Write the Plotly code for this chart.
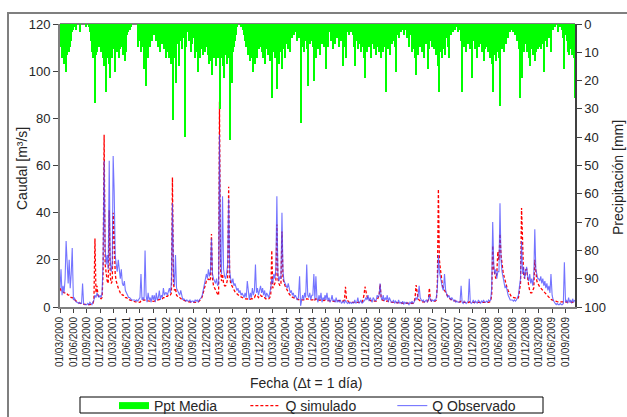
import datetime as dt
import plotly.graph_objects as go

# Quarter tick positions / labels (x axis)
tick_labels = [
    "01/03/2000", "01/06/2000", "01/09/2000", "01/12/2000",
    "01/03/2001", "01/06/2001", "01/09/2001", "01/12/2001",
    "01/03/2002", "01/06/2002", "01/09/2002", "01/12/2002",
    "01/03/2003", "01/06/2003", "01/09/2003", "01/12/2003",
    "01/03/2004", "01/06/2004", "01/09/2004", "01/12/2004",
    "01/03/2005", "01/06/2005", "01/09/2005", "01/12/2005",
    "01/03/2006", "01/06/2006", "01/09/2006", "01/12/2006",
    "01/03/2007", "01/06/2007", "01/09/2007", "01/12/2007",
    "01/03/2008", "01/06/2008", "01/09/2008", "01/12/2008",
    "01/03/2009", "01/06/2009", "01/09/2009",
]

series_names = ["Ppt Media", "Q simulado", "Q Observado"]

# Weekly values, 13 per quarter (row = quarter starting at the tick date)
ppt_media = [
    8, 12, 6, 14, 10, 17, 11, 9, 10, 8, 6, 3, 2,
    1, 0, 2, 0, 0, 0, 3, 0, 0, 0, 0, 0, 1,
    0, 0, 1, 3, 6, 10, 12, 9, 28, 11, 10, 8, 6,
    10, 8, 12, 15, 11, 24, 12, 9, 14, 19, 10, 12, 8,
    9, 17, 8, 10, 6, 12, 9, 5, 8, 11, 7, 13, 10,
    4, 3, 2, 2, 1, 0, 0, 0, 0, 0, 0, 8, 5,
    6, 10, 8, 16, 9, 22, 6, 12, 5, 8, 3, 6, 2,
    4, 2, 6, 3, 8, 5, 10, 4, 7, 3, 9, 6, 12,
    10, 8, 12, 6, 14, 9, 34, 12, 8, 21, 7, 5, 15,
    6, 4, 9, 3, 5, 40, 8, 3, 2, 6, 4, 10, 7,
    5, 12, 7, 10, 17, 8, 12, 6, 9, 11, 7, 10, 8,
    8, 11, 14, 9, 13, 18, 10, 12, 7, 15, 9, 12, 10,
    30, 12, 9, 15, 19, 11, 8, 14, 10, 12, 41, 9, 21,
    10, 8, 6, 4, 1, 0, 0, 1, 0, 2, 4, 6, 8,
    6, 11, 8, 13, 9, 12, 17, 10, 14, 8, 12, 6, 9,
    8, 5, 10, 12, 7, 14, 9, 6, 11, 8, 13, 10, 26,
    10, 8, 12, 9, 23, 11, 14, 8, 10, 16, 9, 12, 7,
    6, 9, 4, 10, 3, 5, 2, 4, 1, 3, 6, 2, 5,
    5, 35, 8, 4, 10, 6, 3, 9, 22, 5, 7, 4, 6,
    8, 20, 6, 12, 4, 9, 3, 11, 7, 5, 8, 4, 6,
    16, 5, 8, 3, 6, 2, 9, 4, 7, 3, 5, 2, 8,
    3, 6, 4, 15, 5, 8, 12, 3, 2, 4, 1, 3, 2,
    4, 8, 15, 6, 3, 9, 5, 7, 10, 4, 8, 12, 19,
    10, 6, 8, 4, 12, 5, 7, 9, 3, 11, 6, 8, 10,
    9, 12, 7, 10, 5, 8, 24, 6, 9, 4, 11, 5, 7,
    6, 3, 8, 17, 4, 2, 5, 1, 3, 0, 2, 4, 1,
    2, 5, 3, 8, 4, 10, 6, 9, 12, 18, 7, 11, 5,
    8, 4, 10, 6, 12, 3, 7, 5, 16, 9, 6, 4, 8,
    6, 9, 4, 11, 8, 15, 24, 10, 7, 12, 5, 9, 11,
    5, 3, 8, 12, 2, 4, 1, 3, 0, 2, 0, 1, 3,
    2, 6, 24, 4, 8, 3, 10, 5, 7, 4, 9, 6, 19,
    6, 3, 9, 5, 12, 4, 8, 2, 7, 10, 5, 13, 9,
    8, 5, 10, 6, 12, 9, 14, 24, 11, 8, 13, 7, 10,
    12, 29, 9, 6, 10, 4, 7, 2, 5, 1, 3, 0, 2,
    3, 1, 4, 2, 6, 5, 9, 26, 12, 19, 8, 10, 7,
    6, 10, 8, 12, 15, 9, 7, 11, 8, 13, 10, 6, 9,
    8, 5, 9, 4, 7, 17, 6, 3, 8, 2, 5, 4, 10,
    2, 0, 1, 0, 0, 3, 0, 1, 0, 2, 5, 16, 4,
    3, 6, 10, 11, 8, 9, 11, 10, 12, 26,
]

q_observado = [
    8, 16, 5, 9, 6, 12, 28, 15, 10, 20, 8, 14, 25,
    3, 4, 2.5, 2, 2, 1.5, 2, 1.5, 1.5, 10, 1.5, 1, 1,
    1, 1.5, 1, 2, 1.5, 1, 2, 3, 5, 4, 6, 5, 4,
    5, 4, 6, 20, 62, 25, 18, 22, 16, 62, 20, 15, 18,
    64, 49, 22, 18, 15, 20, 14, 12, 16, 10, 9, 11, 7,
    6, 5, 4, 4, 3.5, 3, 3, 3, 3, 2.5, 3, 2.5, 3,
    4, 14, 3, 4, 3, 24, 5, 2, 6, 3, 4, 2, 5,
    3, 5, 2, 6, 3, 4, 7, 3, 5, 4, 8, 5, 6,
    6, 5, 7, 8, 6, 10, 44, 15, 9, 22, 8, 7, 6,
    5, 7, 4, 3, 3.5, 3, 2.5, 3, 2.5, 2.5, 3, 2, 2.5,
    2.5, 2, 3, 2.5, 3, 2, 3, 3.5, 4, 5, 7, 9, 12,
    14, 12, 16, 13, 15, 29, 14, 12, 11, 10, 12, 9, 10,
    73, 20, 14, 47, 16, 13, 12, 14, 18, 46, 15, 12, 10,
    12, 9, 10, 8, 7, 8, 6, 7, 5, 6, 5, 4, 6,
    4, 11, 5, 3, 6, 4, 8, 5, 7, 18, 6, 8, 5,
    7, 9, 6, 8, 5, 7, 4, 6, 5, 4, 6, 8, 12,
    10, 14, 12, 16, 47, 14, 11, 13, 12, 40, 15, 11, 10,
    9, 8, 10, 7, 6, 7, 5, 6, 4, 5, 4, 3, 4,
    13, 0.5, 4, 5, 3, 6, 4, 18, 5, 4, 6, 3, 5,
    5, 14, 3, 13, 4, 2, 5, 3, 6, 2, 4, 3, 5,
    3, 6, 2.5, 4, 2, 3, 5, 2.5, 3, 2, 4, 2, 3,
    2, 3, 1.5, 2, 2.5, 1.5, 3, 2, 1.5, 2, 1.5, 2, 1.5,
    2, 1.5, 3, 1.5, 2, 4, 1.5, 2, 3, 1.5, 2, 2.5, 3,
    4, 3, 5, 2.5, 4, 3, 2, 4, 3, 2.5, 3, 5, 4,
    5, 10, 4, 3, 5, 2.5, 4, 3, 5, 2, 4, 3, 2,
    2, 3, 1.5, 2.5, 2, 1.5, 3, 1.5, 2, 1.5, 2.5, 1, 2,
    1.5, 2, 1.5, 1, 2, 1.5, 2.5, 1.5, 2, 3, 4, 3, 5,
    9, 4, 3, 2.5, 3, 2, 2.5, 3, 2, 3, 5, 3, 2.5,
    3, 2.5, 3, 2.5, 4, 8, 22, 15, 12, 10, 8, 7, 14,
    7, 5, 4, 5, 3.5, 3, 4, 3, 2.5, 3, 2, 2.5, 2,
    2, 2.5, 9, 2, 1.5, 2.5, 2, 1.5, 2, 2.5, 12, 2, 1.5,
    2, 3, 1.5, 2.5, 2, 1.5, 3, 2, 1.5, 2.5, 2, 3, 2,
    2, 2.5, 2, 3, 2.5, 3, 8, 36, 18, 14, 16, 12, 15,
    15, 44, 20, 15, 12, 10, 8, 9, 6, 5, 4, 3, 3,
    3, 2.5, 3, 2.5, 3, 4, 5, 9, 12, 28, 14, 17, 12,
    15, 17, 13, 11, 14, 10, 12, 9, 13, 33, 16, 14, 12,
    12, 11, 13, 10, 12, 9, 11, 8, 10, 7, 9, 6, 14,
    5, 3, 2, 1.5, 1, 1.5, 1, 1, 1.5, 1, 1, 1.5, 19,
    2, 3, 1.5, 4, 2, 3, 1.5, 3.5, 2, 3,
]

q_simulado = [
    8, 7, 7, 6.5, 6, 6, 6, 5.5, 5, 5, 4.5, 4, 4,
    3.5, 3, 2.5, 2.2, 2, 1.8, 1.6, 1.5, 1.4, 1.3, 1.2, 1.1, 1,
    1, 1, 1, 1, 1, 1.2, 1.5, 3, 29, 6, 9, 5, 4,
    4, 3.5, 4, 15, 73, 18, 13, 11, 10, 41, 13, 10, 11,
    40, 30, 14, 11, 9, 8, 7, 6, 6, 5, 5, 4.5, 4,
    4, 3.5, 3, 3, 2.8, 2.6, 2.5, 2.4, 2.3, 2.2, 2.1, 2, 2,
    2, 2.5, 2.5, 3, 3, 3, 3, 2.8, 2.6, 2.5, 2.5, 2.4, 2.4,
    2.4, 2.5, 2.6, 2.8, 3, 3, 3.2, 3, 3.2, 3.5, 4, 4, 4.5,
    4.5, 4.5, 5, 5, 5, 6, 55, 10, 7, 8, 5, 4.5, 4,
    4, 3.5, 3.2, 3, 2.8, 2.6, 2.5, 2.4, 2.3, 2.2, 2.1, 2, 2,
    2, 2, 2, 2, 2, 2.2, 2.5, 3, 3.5, 4.5, 6, 8, 10,
    11, 11, 12, 11, 12, 31, 12, 9, 8, 7, 6, 5.5, 5,
    87, 16, 11, 14, 10, 9, 9, 10, 12, 51, 13, 10, 9,
    8, 7, 6.5, 6, 5.5, 5, 4.8, 4.5, 4.2, 4, 3.8, 3.6, 3.5,
    3.4, 3.3, 3.2, 3.2, 3.3, 3.5, 3.5, 4, 4, 5, 4.5, 4.5, 4,
    5, 5, 4.5, 4.5, 4, 4, 3.5, 3.5, 3.5, 3.5, 4, 5, 24,
    8, 9, 10, 11, 35, 12, 10, 9, 10, 32, 12, 10, 9,
    8, 7, 6, 5.5, 5, 4.5, 4.2, 4, 3.8, 3.6, 3.4, 3.2, 3,
    3, 3, 3, 3, 3, 3, 3, 3.5, 3.5, 3.2, 3, 3, 3,
    3, 3.5, 3, 3.5, 3, 2.8, 3, 2.8, 3, 2.7, 2.8, 2.7, 3,
    2.8, 2.8, 2.7, 2.6, 2.6, 2.5, 2.5, 2.5, 2.4, 2.4, 2.5, 2.6, 3,
    2.8, 2.6, 2.5, 2.5, 2.5, 3, 8.6, 3.5, 2.5, 2.2, 2, 2, 1.9,
    1.9, 1.8, 1.8, 1.8, 1.8, 1.9, 1.8, 1.8, 1.9, 2, 3, 5, 8.6,
    6, 4.5, 3.5, 3, 2.8, 2.6, 2.5, 2.4, 2.4, 2.5, 2.5, 3, 4,
    5, 9.6, 4, 3, 2.8, 2.6, 2.5, 2.4, 2.6, 2.4, 2.3, 2.2, 2.1,
    2, 2, 1.9, 1.9, 1.8, 1.8, 1.8, 1.7, 1.7, 1.7, 1.6, 1.6, 1.6,
    1.6, 1.6, 1.5, 1.5, 1.5, 1.5, 1.5, 1.6, 2, 4, 9.3, 5, 3.5,
    3, 2.5, 2.3, 2.2, 2.2, 2.1, 2, 2, 2.2, 3, 8, 3.5, 2.5,
    2.5, 2.4, 2.4, 2.5, 3, 10, 50, 20, 16, 12, 9, 8, 7,
    6, 5, 4.5, 4, 3.5, 3.2, 3, 2.8, 2.6, 2.5, 2.4, 2.3, 2.2,
    2.2, 2.1, 2.5, 2.1, 2, 2, 1.9, 1.9, 1.9, 1.9, 2.2, 2, 1.9,
    2, 2, 1.9, 1.9, 1.9, 1.8, 1.8, 1.8, 1.8, 1.8, 1.8, 1.8, 1.9,
    1.9, 1.9, 2, 2, 2.2, 2.5, 5, 26, 16, 13, 12, 14, 23.5,
    20, 31, 22, 18, 15, 13, 11, 9, 8, 7, 6, 5, 4.5,
    4.2, 4, 3.8, 3.6, 3.5, 3.5, 4, 8, 10, 42, 20, 14, 12,
    15.7, 16, 12, 9, 7, 6, 6, 7, 8, 20, 13, 11, 10,
    9, 8.5, 8, 7.5, 7, 6.5, 6, 5.5, 5, 4.5, 4, 3.5, 3.2,
    3, 2.8, 2.6, 2.5, 2.4, 2.3, 2.2, 2.2, 2.1, 2.1, 2, 2, 2,
    2, 2, 2, 2.2, 2.2, 2.1, 2, 2, 2, 2,
]

# ---- dates ----
quarter_starts = [dt.datetime(int(s[6:]), int(s[3:5]), 1) for s in tick_labels]
WEEKS_PER_QUARTER = 13


def week_dates(n):
    out = []
    for i in range(n):
        k, j = divmod(i, WEEKS_PER_QUARTER)
        out.append(quarter_starts[k] + dt.timedelta(days=7 * j))
    return out


dates = week_dates(len(q_observado))
bar_dates = [d + dt.timedelta(days=3.5) for d in week_dates(len(ppt_media))]

FONT = "Liberation Sans, Arial, sans-serif"
TXT = "#262626"
AXC = "#7f7f7f"
NBSP = "\u00a0"

fig = go.Figure()

fig.add_trace(go.Bar(
    x=bar_dates, y=ppt_media, yaxis="y2", name=series_names[0],
    marker=dict(color="#00ff00", line=dict(width=0)),
    width=7 * 86400000, showlegend=False,
))
# legend stand-in for the precipitation bars (thick green band);
# trailing no-break spaces only widen the legend entry
fig.add_trace(go.Scatter(
    x=[None], y=[None], mode="lines", name=series_names[0] + NBSP * 6,
    line=dict(color="#00ff00", width=7),
))
fig.add_trace(go.Scatter(
    x=dates, y=q_simulado, mode="lines", name=series_names[1] + NBSP * 8,
    line=dict(color="#ff0000", width=1.3, dash="3px,2px"),
))
fig.add_trace(go.Scatter(
    x=dates, y=q_observado, mode="lines", name=series_names[2],
    line=dict(color="rgba(70,70,255,0.75)", width=1.1),
))

fig.update_layout(
    width=627, height=417,
    margin=dict(l=60, r=52, t=24, b=110, autoexpand=False),
    paper_bgcolor="white", plot_bgcolor="white",
    font=dict(family=FONT, color=TXT, size=13),
    bargap=0,
    xaxis=dict(
        type="date", range=["2000-03-01", "2009-11-05"],
        tickvals=quarter_starts, ticktext=tick_labels, tickangle=-90,
        tickfont=dict(size=10, color=TXT),
        ticks="outside", ticklen=4, tickcolor="#404040",
        showline=True, linecolor=AXC, linewidth=2,
        showgrid=False, zeroline=False,
    ),
    yaxis=dict(
        range=[0, 120], dtick=20, tickfont=dict(size=13, color=TXT),
        ticks="outside", ticklen=5, tickcolor="#404040",
        showline=True, linecolor=AXC, linewidth=2,
        showgrid=False, zeroline=False,
    ),
    yaxis2=dict(
        overlaying="y", side="right", range=[100, 0], dtick=10,
        tickfont=dict(size=13, color=TXT),
        ticks="outside", ticklen=5, tickcolor="#404040",
        showline=True, linecolor="#404040", linewidth=1.5,
        showgrid=False, zeroline=False,
    ),
    legend=dict(
        orientation="h", x=(114 - 60) / 515, xanchor="left",
        y=(307 - 390) / 283, yanchor="top",
        font=dict(size=14, color=TXT, family=FONT),
        bgcolor="rgba(0,0,0,0)", borderwidth=0,
    ),
    shapes=[
        # outer chart frame
        dict(type="rect", xref="paper", yref="paper",
             x0=(8 - 60) / 515, x1=(640 - 60) / 515,
             y0=(307 - 430) / 283, y1=(307 - 13) / 283,
             line=dict(color="#7f7f7f", width=2), layer="below"),
        # plot-area top border
        dict(type="line", xref="paper", yref="paper", x0=0, x1=1, y0=1, y1=1,
             line=dict(color="#000000", width=1), layer="below"),
        # legend box
        dict(type="rect", xref="paper", yref="paper",
             x0=(80 - 60) / 515, x1=(543 - 60) / 515,
             y0=(307 - 413) / 283, y1=(307 - 397) / 283,
             line=dict(color="#000000", width=1)),
    ],
    annotations=[
        dict(text="Caudal [m³/s]", xref="paper", yref="paper",
             x=(22 - 60) / 515, y=(307 - 169) / 283, textangle=-90,
             xanchor="center", yanchor="middle",
             showarrow=False, font=dict(size=14, color=TXT)),
        dict(text="Precipitación [mm]", xref="paper", yref="paper",
             x=(618 - 60) / 515, y=(307 - 178) / 283, textangle=-90,
             xanchor="center", yanchor="middle",
             showarrow=False, font=dict(size=14, color=TXT)),
        dict(text="Fecha (Δt = 1 día)", xref="paper", yref="paper",
             x=(306 - 60) / 515, y=(307 - 383) / 283,
             xanchor="center", yanchor="middle",
             showarrow=False, font=dict(size=14, color=TXT)),
    ],
)

fig.write_html("out.html")
